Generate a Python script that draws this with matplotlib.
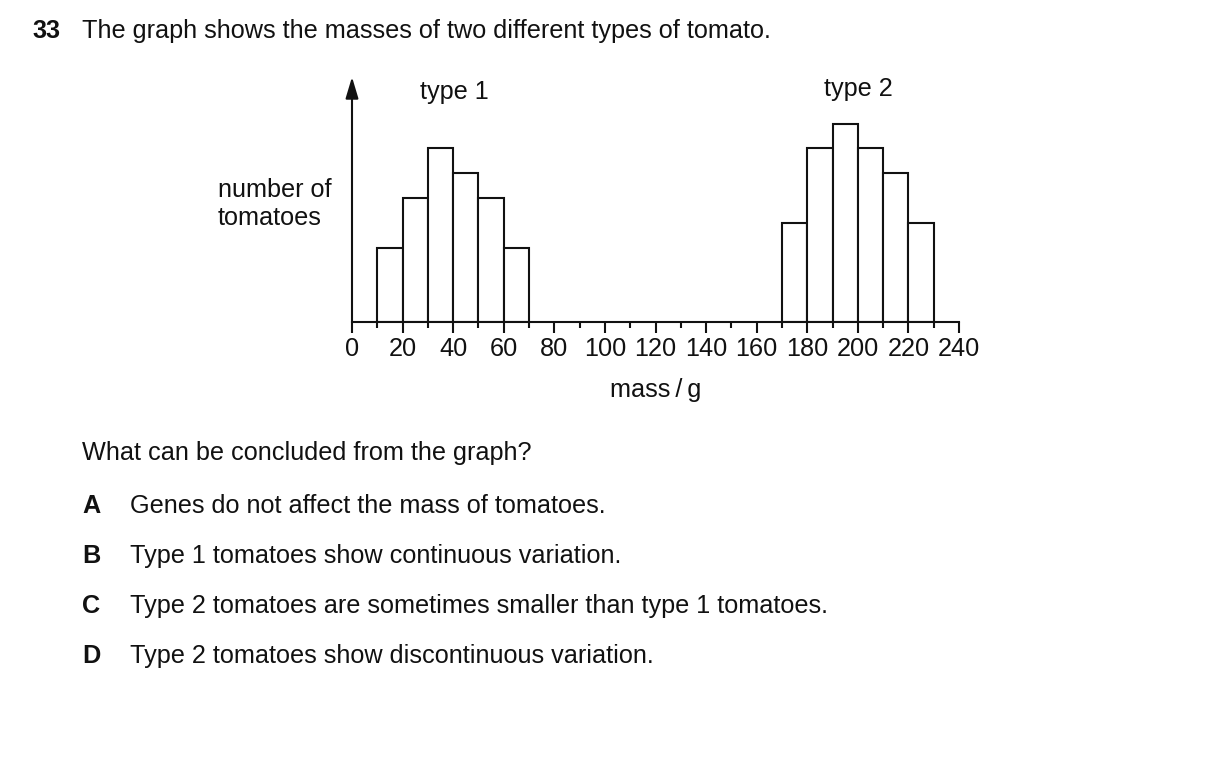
import matplotlib
matplotlib.use("Agg")
import matplotlib.pyplot as plt
from matplotlib.patches import ArrowStyle
import numpy as np

plt.rcParams['font.family'] = ['Liberation Sans', 'DejaVu Sans']

# ---- data ----
type1_edges = [10, 20, 30, 40, 50, 60]
type1_counts = [3, 5, 7, 6, 5, 3]
type2_edges = [170, 180, 190, 200, 210, 220]
type2_counts = [4, 7, 8, 7, 6, 4]
bin_width = 10
major_ticks = [0, 20, 40, 60, 80, 100, 120, 140, 160, 180, 200, 220, 240]
minor_ticks = [10, 30, 50, 70, 90, 110, 130, 150, 170, 190, 210, 230]

W, H = 1209, 763
FS = 18.2
fig = plt.figure(figsize=(W / 100, H / 100), dpi=100)

def fx(px):
    return px / W

def fy(py):
    return 1 - py / H

ax = fig.add_axes([fx(352), fy(322), 607 / W, 245 / H])
ax.set_xlim(0, 240)
ax.set_ylim(0, 9.88)

lw = 1.5
col = '#111111'
ax.bar(type1_edges, type1_counts, width=bin_width, align='edge',
       facecolor='white', edgecolor=col, linewidth=lw, zorder=2)
ax.bar(type2_edges, type2_counts, width=bin_width, align='edge',
       facecolor='white', edgecolor=col, linewidth=lw, zorder=2)

for s in ['top', 'right', 'left']:
    ax.spines[s].set_visible(False)
ax.spines['bottom'].set_linewidth(lw)
ax.spines['bottom'].set_color(col)
ax.spines['bottom'].set_zorder(3)

ax.set_xticks(major_ticks)
ax.set_xticklabels([str(t) for t in major_ticks], fontsize=FS, color=col)
ax.set_xticks(minor_ticks, minor=True)
ax.tick_params(axis='x', which='major', direction='out', length=8, width=lw,
               color=col, pad=3)
ax.tick_params(axis='x', which='minor', direction='out', length=4.3, width=lw,
               color=col)
ax.set_yticks([])

# y axis with arrow
ax.annotate('', xy=(0, 1), xytext=(0, 0), xycoords='axes fraction',
            textcoords='axes fraction',
            arrowprops=dict(arrowstyle=ArrowStyle('-|>', head_length=1.0, head_width=0.3),
                            mutation_scale=13, lw=lw, color=col,
                            shrinkA=0, shrinkB=0),
            annotation_clip=False)

# texts
fig.text(fx(454), fy(99.5), 'type 1', fontsize=FS, ha='center', va='baseline', color=col)
fig.text(fx(858), fy(96), 'type 2', fontsize=FS, ha='center', va='baseline', color=col)
fig.text(fx(218), fy(197.3), 'number of', fontsize=FS, ha='left', va='baseline', color=col)
fig.text(fx(218), fy(225), 'tomatoes', fontsize=FS, ha='left', va='baseline', color=col)
fig.text(fx(656), fy(397.3), 'mass\u2009/\u2009g', fontsize=FS, ha='center', va='baseline', color=col)

fig.text(fx(32), fy(37.7), '33', fontsize=FS, fontweight='bold', ha='left', va='baseline', color=col)
fig.text(fx(82), fy(37.7), 'The graph shows the masses of two different types of tomato.',
         fontsize=FS, ha='left', va='baseline', color=col)
fig.text(fx(82), fy(460), 'What can be concluded from the graph?',
         fontsize=FS, ha='left', va='baseline', color=col)

options = [('A', 'Genes do not affect the mass of tomatoes.'),
           ('B', 'Type 1 tomatoes show continuous variation.'),
           ('C', 'Type 2 tomatoes are sometimes smaller than type 1 tomatoes.'),
           ('D', 'Type 2 tomatoes show discontinuous variation.')]
for i, (letter, txt) in enumerate(options):
    yb = 513 + 50 * i
    fig.text(fx(82), fy(yb), letter, fontsize=FS, fontweight='bold', ha='left', va='baseline', color=col)
    fig.text(fx(130), fy(yb), txt, fontsize=FS, ha='left', va='baseline', color=col)

fig.savefig('out.png', dpi=100, facecolor='white')
